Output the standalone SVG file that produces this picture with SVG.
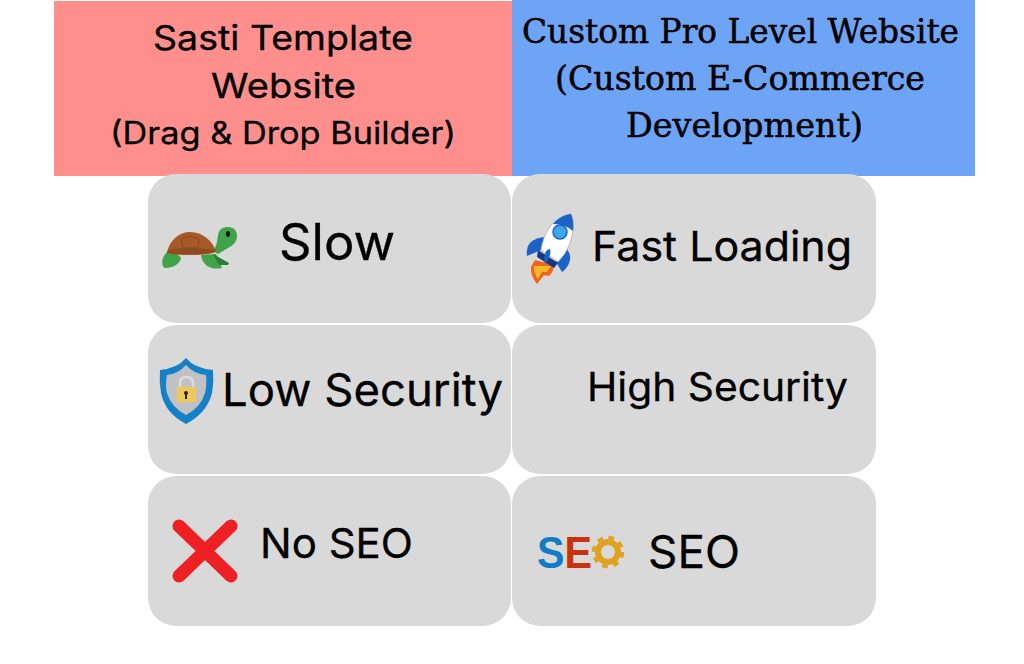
<svg xmlns="http://www.w3.org/2000/svg" width="1024" height="664" viewBox="0 0 1024 664">
<style>
.card{fill:#d9d9d9}
.sans{font-family:"Inter","Lato","Liberation Sans",sans-serif;fill:#000;stroke:#000;stroke-width:.3}
.serif{font-family:"DejaVu Serif","Liberation Serif",serif;fill:#000;font-size:33px;stroke:#000;stroke-width:.5}
.h{font-size:34px}
</style>
<rect width="1024" height="664" fill="#fff"/>
<g id="header-template"><rect x="54" y="1" width="458" height="175" fill="#ff8f8c"/>
<text class="sans h" x="153" y="49.500" textLength="260" lengthAdjust="spacingAndGlyphs">Sasti Template</text>
<text class="sans h" x="211" y="97.500" textLength="145" lengthAdjust="spacingAndGlyphs">Website</text>
<text class="sans h" x="110" y="143.500" textLength="346" lengthAdjust="spacingAndGlyphs" style="font-size:31px">(Drag &amp; Drop Builder)</text></g>
<g id="header-custom"><rect x="512" y="0" width="463" height="176" fill="#6ea4f5"/>
<text class="serif" x="522" y="42.500" textLength="437" lengthAdjust="spacingAndGlyphs">Custom Pro Level Website</text>
<text class="serif" x="555" y="89.500" textLength="370" lengthAdjust="spacingAndGlyphs">(Custom E-Commerce</text>
<text class="serif" x="626" y="136.500" textLength="237" lengthAdjust="spacingAndGlyphs">Development)</text></g>
<g id="slow"><rect class="card" x="148" y="174" width="363" height="149" rx="28"/>
<path d="M167 252C172 252 178 253 181 258C180 264 173 268 165 268C161 266 161 258 167 252Z" fill="#3fa34a"/>
<path d="M201 255L216 254L222 268C212 270 203 267 201 255Z" fill="#3fa34a"/>
<path d="M213 254L229 263L228 265L219 265Z" fill="#2d7d3a"/>
<path d="M213 251C217 246 217 241 218 235C219 229 223 227 228 227C234 227 237 231 237 236C237 241 234 245 228 248L218 254Z" fill="#3fa34a"/>
<path d="M167 252C170 240 179 232 190 232C203 232 212 241 216 251C214 254 204 255 192 255C179 255 170 255 167 252Z" fill="#a65a28"/>
<path d="M168 250Q190 246 215 250L216 252Q192 256 167 253Z" fill="#8f4a20"/>
<path d="M181 239L190 236L199 239L198 248L183 248Z" fill="none" stroke="#8a4620" stroke-width="1"/>
<ellipse cx="228" cy="234" rx="2" ry="3" fill="#111"/>
<text class="sans" x="279" y="260" font-size="50" textLength="116" lengthAdjust="spacingAndGlyphs">Slow</text></g>
<g id="fast-loading"><rect class="card" x="512" y="174" width="364" height="149" rx="28"/>
<path d="M531 267L535 260L554 265Q553 273 549 276L544 275L537 284Q530 275 531 267Z" fill="#f0641e"/>
<path d="M534 266L551 266L547 272L542 272L538 279Q533 272 534 266Z" fill="#ffb52a"/>
<path d="M544 237Q531 239 528 246Q526 251 527 256L541 250Z" fill="#1c62c9"/>
<path d="M567 249Q571 255 570 260Q568 268 562 272L556 262Z" fill="#1c62c9"/>
<path d="M571 214C558 216 548 226 544 238Q541 246 541 250L558 262Q567 253 570 243C575 228 574 222 571 214Z" fill="#fff" stroke="#8a9099" stroke-width=".6"/>
<path d="M571 214C563 215 557 219 553 224Q565 224 573 231Q574 221 571 214Z" fill="#1c62c9"/>
<path d="M538 250L558 263L554 268L537 257Z" fill="#17397f"/>
<path d="M550 249Q552 255 545 264Q543 256 547 250Z" fill="#1c62c9"/>
<circle cx="560" cy="232" r="7" fill="#3ea7ec" stroke="#1c62c9" stroke-width="1.5"/>
<text class="sans" x="592" y="261" font-size="41" textLength="260" lengthAdjust="spacingAndGlyphs">Fast Loading</text></g>
<g id="low-security"><rect class="card" x="148" y="325" width="363" height="149" rx="28"/>
<path d="M186 358Q194 368 213 370Q214 382 212 393Q207 413 186 424Q165 413 161 393Q159 382 160 370Q178 368 186 358Z" fill="#1480c8"/>
<path d="M186 365Q194 374 206 375Q207 385 205 393Q201 407 186 415Q171 407 167 393Q165 385 167 375Q178 374 186 365Z" fill="#bfc1c4"/>
<path d="M180 387V383Q180 377 186 377Q193 377 193 383V387" fill="none" stroke="#dcdcdc" stroke-width="2.5"/>
<rect x="177" y="387" width="19" height="15" fill="#f0c85a"/>
<circle cx="186" cy="393" r="2" fill="#222"/><rect x="185" y="393" width="2" height="6" fill="#222"/>
<text class="sans" x="222" y="406" font-size="45" textLength="281" lengthAdjust="spacingAndGlyphs">Low Security</text></g>
<g id="high-security"><rect class="card" x="512" y="325" width="364" height="149" rx="28"/>
<text class="sans" x="587" y="401" font-size="39" textLength="261" lengthAdjust="spacingAndGlyphs">High Security</text></g>
<g id="no-seo"><rect class="card" x="148" y="476" width="363" height="150" rx="28"/>
<path d="M179 526L231 576M231 526L179 576" stroke="#ed2024" stroke-width="13" stroke-linecap="round" fill="none"/>
<text class="sans" x="260" y="558" font-size="41" textLength="153" lengthAdjust="spacingAndGlyphs">No SEO</text></g>
<g id="seo"><rect class="card" x="512" y="476" width="364" height="150" rx="28"/>
<text x="537" y="568" font-family="Liberation Sans,sans-serif" font-weight="700" font-size="44" textLength="55" lengthAdjust="spacingAndGlyphs"><tspan fill="#0f7cc6">S</tspan><tspan fill="#c8320f">E</tspan></text>
<circle cx="608" cy="552" r="10" fill="none" stroke="#e0a020" stroke-width="6"/>
<circle cx="608" cy="552" r="14.5" fill="none" stroke="#e0a020" stroke-width="3.5" stroke-dasharray="5.7 5.7"/>
<text class="sans" x="648" y="568" font-size="45" textLength="92" lengthAdjust="spacingAndGlyphs">SEO</text></g>
</svg>
